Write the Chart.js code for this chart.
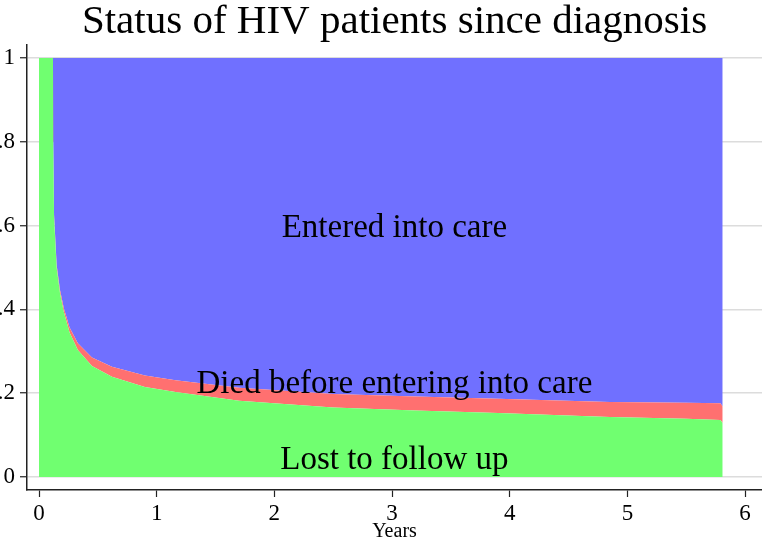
<!DOCTYPE html>
<html>
<head>
<meta charset="utf-8">
<script src="https://cdn.jsdelivr.net/npm/chart.js@4/dist/chart.umd.min.js"></script>
<style>
  html, body { margin: 0; padding: 0; background: #ffffff; }
  #wrap { width: 762px; height: 540px; }
</style>
</head>
<body>
<div id="wrap"><canvas id="c" width="762" height="540"></canvas></div>
<script>
// ---- data ----
const years       = [0, 0.119, 0.121, 0.128, 0.15, 0.178, 0.21, 0.26, 0.33, 0.45, 0.62, 0.9, 1.16, 1.7, 2.5, 3.2, 3.9, 4.85, 5.5, 5.79, 5.81];
const lostShare   = [1, 1, 0.80, 0.62, 0.50, 0.44, 0.395, 0.345, 0.303, 0.265, 0.239, 0.215, 0.203, 0.182, 0.166, 0.159, 0.153, 0.143, 0.139, 0.136, 0.129];
const diedShare   = [0, 0, 0, 0.005, 0.006, 0.007, 0.009, 0.012, 0.016, 0.020, 0.024, 0.027, 0.028, 0.031, 0.032, 0.033, 0.034, 0.036, 0.038, 0.040, 0.039];
const enteredShare = years.map((_, i) => +(1 - lostShare[i] - diedShare[i]).toFixed(4));
const seriesNames = ['Lost to follow up', 'Died before entering into care', 'Entered into care'];
const xTicks = [0, 1, 2, 3, 4, 5, 6];
const yTicks = [0, 0.2, 0.4, 0.6, 0.8, 1];
const yTickLabels = ['0', '.2', '.4', '.6', '.8', '1'];

// cumulative tops for the stacked areas
const lostTop = lostShare.slice();
const diedTop = lostShare.map((v, i) => v + diedShare[i]);
const enteredTop = diedTop.map((v, i) => v + enteredShare[i]);
const pts = arr => years.map((x, i) => ({ x: x, y: arr[i] }));

const labelPlugin = {
  id: 'areaLabels',
  afterDatasetsDraw(chart) {
    const ctx = chart.ctx;
    const xs = chart.scales.x, ys = chart.scales.y;
    const items = [
      { text: seriesNames[2], x: 3.02, y: 0.573 },
      { text: seriesNames[1], x: 3.02, y: 0.200 },
      { text: seriesNames[0], x: 3.02, y: 0.019 }
    ];
    ctx.save();
    ctx.font = '33px "Liberation Serif", "Times New Roman", serif';
    ctx.fillStyle = '#000000';
    ctx.textAlign = 'center';
    ctx.textBaseline = 'alphabetic';
    items.forEach(it => ctx.fillText(it.text, xs.getPixelForValue(it.x), ys.getPixelForValue(it.y)));
    ctx.restore();
  }
};

const serif = '"Liberation Serif", "Times New Roman", serif';

new Chart(document.getElementById('c'), {
  type: 'line',
  data: {
    datasets: [
      { label: seriesNames[0], data: pts(lostTop), fill: 'origin', backgroundColor: '#70ff70', borderWidth: 0, pointRadius: 0, tension: 0 },
      { label: seriesNames[1], data: pts(diedTop), fill: '-1', backgroundColor: '#ff7070', borderWidth: 0, pointRadius: 0, tension: 0 },
      { label: seriesNames[2], data: pts(enteredTop), fill: '-1', backgroundColor: '#7070ff', borderWidth: 0, pointRadius: 0, tension: 0 }
    ]
  },
  options: {
    responsive: false,
    animation: false,
    devicePixelRatio: 1,
    layout: { padding: 0 },
    plugins: {
      legend: { display: false },
      tooltip: { enabled: false },
      title: {
        display: true,
        text: 'Status of HIV patients since diagnosis',
        fullSize: false,
        color: '#000000',
        font: { family: serif, size: 41, weight: 'normal', lineHeight: 1 },
        padding: { top: 2, bottom: 2 }
      }
    },
    scales: {
      x: {
        type: 'linear',
        min: -0.102,
        max: 6.144,
        afterBuildTicks: s => { s.ticks = xTicks.map(v => ({ value: v })); },
        afterFit: s => { s.height = 50; },
        grid: { drawOnChartArea: false, drawTicks: true, tickLength: 7, tickColor: '#222222', tickWidth: 1.2 },
        border: { display: true, color: '#222222', width: 1.5 },
        ticks: { color: '#000000', font: { family: serif, size: 23 }, padding: 3, maxRotation: 0 },
        title: { display: true, text: 'Years', color: '#000000', font: { family: serif, size: 20, lineHeight: 0.8 }, padding: 0 }
      },
      y: {
        type: 'linear',
        min: -0.031,
        max: 1.031,
        afterBuildTicks: s => { s.ticks = yTicks.map(v => ({ value: v })); },
        afterFit: s => { s.width = 27; },
        grid: { color: '#dcdcdc', lineWidth: 1.5, drawTicks: true, tickLength: 7, tickColor: '#222222', tickWidth: 1.2 },
        border: { display: true, color: '#222222', width: 1.5 },
        ticks: {
          color: '#000000', font: { family: serif, size: 23 }, padding: 5,
          callback: v => { const i = yTicks.indexOf(v); return i >= 0 ? yTickLabels[i] : ''; }
        }
      }
    }
  },
  plugins: [labelPlugin]
});
</script>
</body>
</html>
